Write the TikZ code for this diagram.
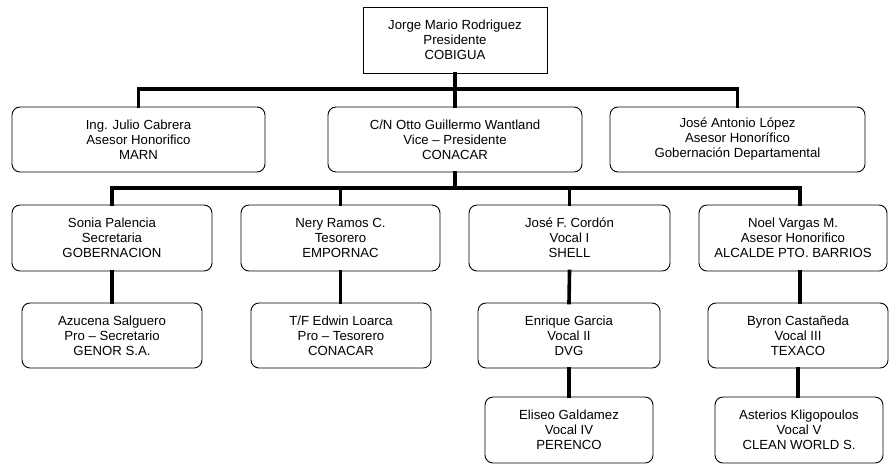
\documentclass[tikz,border=0pt]{standalone}
\usepackage{fontspec}
\setmainfont{Liberation Sans}
\begin{document}
\begin{tikzpicture}[x=1pt,y=-1pt,
  box/.style={draw=black,line width=0.9pt,rounded corners=8pt,align=center,inner sep=0pt,
    font=\fontsize{13.2}{15}\selectfont},
  topbox/.style={box,rounded corners=0pt},
  conn/.style={line width=3.6pt,line cap=rect,line join=miter}]
\useasboundingbox (0,0) rectangle (890,467);
% nodes
\node[topbox,minimum width=184pt,minimum height=66pt] (top) at (455,40) {Jorge Mario Rodriguez\\Presidente\\COBIGUA};
\node[box,minimum width=253pt,minimum height=65pt] (l2a) at (138.5,139.5) {Ing. Julio Cabrera\\Asesor Honorifico\\MARN};
\node[box,minimum width=254pt,minimum height=65pt] (l2b) at (455,139.5) {C/N Otto Guillermo Wantland\\Vice -- Presidente\\CONACAR};
\node[box,minimum width=255pt,minimum height=65pt] (l2c) at (737.5,139.5) {José Antonio López\\Asesor Honorífico\\Gobernación Departamental};
\node[box,minimum width=200pt,minimum height=66pt] (l3a) at (112,238) {Sonia Palencia\\Secretaria\\GOBERNACION};
\node[box,minimum width=199pt,minimum height=66pt] (l3b) at (340.5,238) {Nery Ramos C.\\Tesorero\\EMPORNAC};
\node[box,minimum width=201pt,minimum height=66pt] (l3c) at (569.5,238) {José F. Cordón\\Vocal I\\SHELL};
\node[box,minimum width=188pt,minimum height=66pt] (l3d) at (793,238) {Noel Vargas M.\\Asesor Honorifico\\ALCALDE PTO. BARRIOS};
\node[box,minimum width=180pt,minimum height=65pt] (l4a) at (112,335.5) {Azucena Salguero\\Pro -- Secretario\\GENOR S.A.};
\node[box,minimum width=180pt,minimum height=65pt] (l4b) at (341,335.5) {T/F Edwin Loarca\\Pro -- Tesorero\\CONACAR};
\node[box,minimum width=182pt,minimum height=65pt] (l4c) at (569,335.5) {Enrique Garcia\\Vocal II\\DVG};
\node[box,minimum width=180pt,minimum height=65pt] (l4d) at (798,335.5) {Byron Castañeda\\Vocal III\\TEXACO};
\node[box,minimum width=168pt,minimum height=66pt] (l5c) at (569,430) {Eliseo Galdamez\\Vocal IV\\PERENCO};
\node[box,minimum width=168pt,minimum height=66pt] (l5d) at (799,430) {Asterios Kligopoulos\\Vocal V\\CLEAN WORLD S.};
% buses
\coordinate (b1) at (0,89);
\coordinate (b2) at (0,188);
% connectors
\draw[conn] (top.south) -- (top.south |- b1);
\draw[conn] (l2a.north) -- (l2a.north |- b1) -- (l2c.north |- b1) -- (l2c.north);
\draw[conn] (l2b.north) -- (l2b.north |- b1);
\draw[conn] (l2b.south) -- (l2b.south |- b2);
\draw[conn] (l3a.north) -- (l3a.north |- b2) -- ([xshift=7pt]l3d.north |- b2) -- ([xshift=7pt]l3d.north);
\draw[conn] (l3b.north) -- (l3b.north |- b2);
\draw[conn] (l3c.north) -- (l3c.north |- b2);
\draw[conn] (l3a.south) -- (l4a.north);
\draw[conn] (l3b.south) -- (l3b.south |- l4b.north);
\draw[conn] (l3c.south) -- (l4c.north);
\draw[conn] ([xshift=7pt]l3d.south) -- ([xshift=7pt]l3d.south |- l4d.north);
\draw[conn] (l4c.south) -- (l5c.north);
\draw[conn] (l4d.south) -- (l4d.south |- l5d.north);
\end{tikzpicture}
\end{document}
